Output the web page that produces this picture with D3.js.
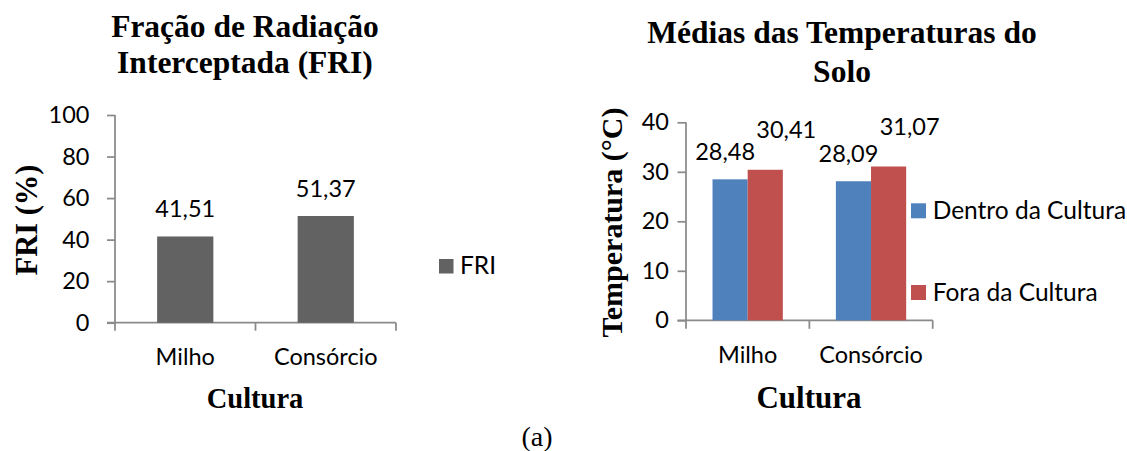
<!DOCTYPE html>
<html>
<head>
<meta charset="utf-8">
<script src="https://cdn.jsdelivr.net/npm/d3@7"></script>
<style>
  html, body { margin: 0; padding: 0; background: #fff; }
  svg { display: block; }
  .sans { font-family: Lato, "Open Sans", sans-serif; }
  .serif { font-family: "Liberation Serif", "Times New Roman", serif; }
</style>
</head>
<body>
<svg id="chart" width="1127" height="451"></svg>
<script>
// ---- data ----
const categories = ["Milho", "Consórcio"];
const friSeriesName = "FRI";
const friValues = [41.51, 51.37];
const friTicks = [0, 20, 40, 60, 80, 100];

const seriesNames = ["Dentro da Cultura", "Fora da Cultura"];
const dentroValues = [28.48, 28.09];
const foraValues = [30.41, 31.07];
const tempTicks = [0, 10, 20, 30, 40];

const titleFRI = ["Fração de Radiação", "Interceptada (FRI)"];
const titleTemp = ["Médias das Temperaturas do", "Solo"];
const yTitleFRI = "FRI (%)";
const yTitleTemp = "Temperatura (°C)";
const xTitle = "Cultura";
const caption = "(a)";

// ---- setup ----
const svg = d3.select("#chart");
svg.append("rect").attr("width", 1127).attr("height", 451).attr("fill", "#fff");
const locale = d3.formatLocale({decimal: ",", thousands: ".", grouping: [3], currency: ["", ""]});
const fmt = locale.format(".2f");
const axisColor = "#8a8a8a";
const SANS = 23.5;
const LEG = 24.5;

function styleAxis(g) {
  g.selectAll("path.domain").remove();
  g.selectAll("line").attr("stroke", axisColor).attr("stroke-width", 1.75);
  g.selectAll("text").attr("class", "sans").attr("font-size", SANS).attr("fill", "#000");
}

function drawFrame(x, y, ticks, padLeft, tickLen, labelY) {
  const [x0, x1] = x.range();
  const [y0, y1] = y.range();
  // y axis
  const ga = svg.append("g").attr("transform", `translate(${x0},0)`)
    .call(d3.axisLeft(y).tickValues(ticks).tickSize(tickLen).tickPadding(padLeft).tickSizeOuter(0));
  styleAxis(ga);
  ga.selectAll("text").attr("font-family", null);
  svg.append("line").attr("x1", x0).attr("x2", x0).attr("y1", y0).attr("y2", y1)
    .attr("stroke", axisColor).attr("stroke-width", 1.75);
  // x axis
  svg.append("line").attr("x1", x0 - tickLen).attr("x2", x1).attr("y1", y0).attr("y2", y0)
    .attr("stroke", axisColor).attr("stroke-width", 1.75);
  const bounds = [x0].concat(x.domain().map(c => x(c) + x.bandwidth() / 2 + x.step() / 2));
  bounds[bounds.length - 1] = x1;
  svg.append("g").selectAll("line").data(bounds).join("line")
    .attr("x1", d => d).attr("x2", d => d).attr("y1", y0).attr("y2", y0 + tickLen)
    .attr("stroke", axisColor).attr("stroke-width", 1.75);
  const gx = svg.append("g").attr("transform", `translate(0,${y0})`)
    .call(d3.axisBottom(x).tickSize(0));
  styleAxis(gx);
  gx.selectAll("text").attr("y", labelY - y0).attr("dy", null);
}

// ---- left chart: FRI ----
const yL = d3.scaleLinear([0, 100], [322.7, 115]);
const xL = d3.scaleBand(categories, [115, 396]).paddingInner(0.6).paddingOuter(0.3);
drawFrame(xL, yL, friTicks, 17.5, 8, 365);

svg.append("g").selectAll("rect").data(friValues).join("rect")
  .attr("x", (d, i) => xL(categories[i]))
  .attr("width", xL.bandwidth())
  .attr("y", d => yL(d))
  .attr("height", d => yL(0) - yL(d))
  .attr("fill", "#626262");
svg.append("g").selectAll("text").data(friValues).join("text")
  .attr("class", "sans").attr("font-size", SANS).attr("text-anchor", "middle")
  .attr("x", (d, i) => xL(categories[i]) + xL.bandwidth() / 2)
  .attr("y", d => yL(d) - 19.5)
  .text(d => fmt(d));

// left legend
svg.append("rect").attr("x", 439).attr("y", 259).attr("width", 14.5).attr("height", 14.5).attr("fill", "#626262");
svg.append("text").attr("class", "sans").attr("font-size", LEG).attr("x", 460).attr("y", 274).text(friSeriesName);

// left titles
svg.append("text").attr("class", "serif").attr("font-size", 31.5).attr("font-weight", "bold")
  .attr("text-anchor", "middle").selectAll("tspan").data(titleFRI).join("tspan")
  .attr("x", 245).attr("y", (d, i) => 37.3 + i * 36).text(d => d);
svg.append("text").attr("class", "serif").attr("font-size", 30.5).attr("font-weight", "bold")
  .attr("text-anchor", "middle").attr("dominant-baseline", "central")
  .attr("transform", "translate(27,220) rotate(-90)").text(yTitleFRI);
svg.append("text").attr("class", "serif").attr("font-size", 28.5).attr("font-weight", "bold")
  .attr("text-anchor", "middle").attr("x", 255).attr("y", 408).text(xTitle);

// ---- right chart: temperatures ----
const seriesValues = [dentroValues, foraValues];
const colors = ["#4F81BD", "#C0504D"];
const labelDx = [-5, 21];
const labelDy = [-19.5, -31.5];
const yR = d3.scaleLinear([0, 40], [320.3, 122.3]);
const xR = d3.scaleBand(categories, [686, 932.7]).paddingInner(0.43).paddingOuter(0.215);
const xS = d3.scaleBand(seriesNames, [0, xR.bandwidth()]);
drawFrame(xR, yR, tempTicks, 8.5, 8.5, 363.3);

const cells = [];
seriesNames.forEach((s, si) => categories.forEach((c, ci) => cells.push({s, si, c, v: seriesValues[si][ci]})));
svg.append("g").selectAll("rect").data(cells).join("rect")
  .attr("x", d => xR(d.c) + xS(d.s))
  .attr("width", xS.bandwidth())
  .attr("y", d => yR(d.v))
  .attr("height", d => yR(0) - yR(d.v))
  .attr("fill", d => colors[d.si]);
svg.append("g").selectAll("text").data(cells).join("text")
  .attr("class", "sans").attr("font-size", SANS).attr("text-anchor", "middle")
  .attr("x", d => xR(d.c) + xS(d.s) + xS.bandwidth() / 2 + labelDx[d.si])
  .attr("y", d => yR(d.v) + labelDy[d.si])
  .text(d => fmt(d.v));

// right legend
const legY = [203.3, 285];
seriesNames.forEach((s, i) => {
  svg.append("rect").attr("x", 911).attr("y", legY[i]).attr("width", 15).attr("height", 15).attr("fill", colors[i]);
  svg.append("text").attr("class", "sans").attr("font-size", LEG).attr("x", 932.7).attr("y", legY[i] + 15.5).text(s);
});

// right titles
svg.append("text").attr("class", "serif").attr("font-size", 31.5).attr("font-weight", "bold")
  .attr("text-anchor", "middle").selectAll("tspan").data(titleTemp).join("tspan")
  .attr("x", 842).attr("y", (d, i) => 43.3 + i * 38.4).text(d => d);
svg.append("text").attr("class", "serif").attr("font-size", 30).attr("font-weight", "bold")
  .attr("text-anchor", "middle").attr("dominant-baseline", "central")
  .attr("transform", "translate(611,222.5) rotate(-90)").text(yTitleTemp);
svg.append("text").attr("class", "serif").attr("font-size", 31).attr("font-weight", "bold")
  .attr("text-anchor", "middle").attr("x", 809).attr("y", 408.3).text(xTitle);

// caption
svg.append("text").attr("class", "serif").attr("font-size", 28).attr("text-anchor", "middle")
  .attr("x", 537).attr("y", 446).text(caption);
</script>
</body>
</html>
